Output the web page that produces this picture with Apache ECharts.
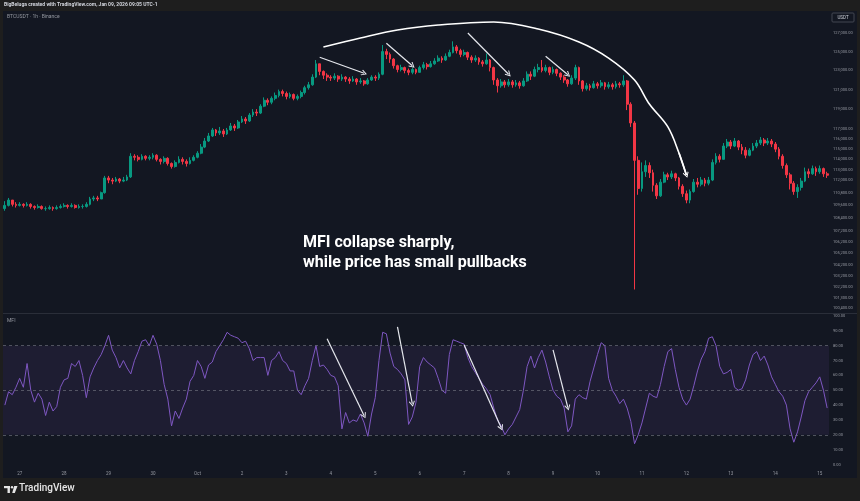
<!DOCTYPE html>
<html>
<head>
<meta charset="utf-8">
<script src="https://cdn.jsdelivr.net/npm/echarts@6/dist/echarts.min.js"></script>
<style>
  html, body { margin: 0; padding: 0; background: #1e1e1e; }
  #main { width: 860px; height: 501px; }
</style>
</head>
<body>
<div id="main"></div>
<script>
// BTCUSDT, 2h bars from Sep 26 16:00
const firstOpen = 109300;
const closes = [
  109600,110100,109700,109600,109700,109600,109700,109500,109400,109500,
  109300,109300,109400,109300,109400,109500,109600,109500,109600,109400,
  109500,109500,109700,110200,110300,110200,110800,112200,112000,111900,
  112100,111900,112000,112300,114300,114200,114000,114300,114100,114200,
  114400,114000,113800,114100,113600,113300,113700,114000,113800,113600,
  113900,114200,114600,115200,115800,116300,116900,116600,116800,116500,
  116900,117300,117100,117700,118000,117800,118400,118700,118600,119300,
  119900,119700,120100,120400,120800,120600,120300,120500,120100,120300,
  120700,121200,121500,122300,123700,122900,122500,122300,122200,122400,
  122100,122300,122100,121900,122100,121800,121900,121600,122000,122300,
  122200,122600,125000,124700,124200,123500,123100,123300,123000,122800,
  123100,122800,123300,123600,123400,123700,124000,124300,124100,124500,
  124900,125500,125100,124700,124900,124400,124100,124300,123900,123700,
  124100,123300,122000,121400,121800,121500,121800,121500,121700,121400,
  121900,122600,122400,123100,123300,123000,123300,122800,123100,122700,
  122300,122000,121600,122200,123300,121900,121100,121400,121200,121600,
  121400,121700,121300,121500,121300,121600,121500,121900,119500,117600,
  113900,111200,112800,113400,112700,111500,110500,111800,112500,112300,
  112600,112200,111400,110700,110100,110900,111800,111600,112000,111700,
  112000,113700,114300,114000,115300,115700,115300,115800,115200,114900,
  114400,114900,115300,115600,115900,115600,115800,115500,115000,114300,
  113400,112500,111700,110900,111300,111900,112800,112600,113100,112800,
  113100,112600,112462.47
];
const highs = [
  110000,110300,110100,109900,109900,109800,109900,109800,109600,109700,
  109600,109500,109600,109500,109600,109700,109800,109700,109800,109700,
  109700,109700,109900,110400,110500,110500,110900,112400,112400,112200,
  112300,112200,112300,112500,114600,114500,114400,114500,114400,114400,
  114600,114500,114100,114300,114200,113700,113900,114300,114200,114000,
  114200,114400,114800,115500,116100,116600,117100,117000,117200,117000,
  117100,117600,117500,117900,118300,118200,118600,119000,119000,119500,
  120200,120100,120300,120700,121000,121000,120800,120700,120600,120500,
  120900,121400,121800,122600,124100,123700,123000,122700,122500,122700,
  122500,122600,122400,122300,122400,122200,122200,122000,122200,122500,
  122500,122800,125700,125300,124900,124300,123600,123600,123400,123200,
  123300,123200,123500,123900,123800,124000,124300,124600,124500,124800,
  125200,126100,125700,125300,125200,125000,124600,124600,124400,124100,
  124800,124200,123400,122200,122100,122000,122100,122000,122000,121900,
  122200,122900,122900,123400,123700,124100,123600,123400,123400,123200,
  122800,122500,122100,122500,123600,123400,122000,121700,121600,121900,
  121800,122000,121800,121800,121700,121900,121800,122500,122000,119700,
  117800,114300,113700,113900,113700,113000,111700,112100,112800,112700,
  112900,112700,112300,111600,111000,111100,112100,112200,112300,112200,
  112300,114000,114600,114500,115600,116000,115900,116100,115900,115500,
  115200,115100,115600,115900,116200,116100,116100,116000,115700,115200,
  114500,113600,112700,111900,111600,112200,113200,113100,113400,113300,
  113400,113200,112800
];
const lows = [
  109100,109500,109500,109400,109500,109400,109500,109300,109200,109300,
  109200,109100,109200,109100,109200,109300,109400,109300,109400,109300,
  109300,109300,109400,109600,110000,110000,110200,110700,111700,111600,
  111800,111700,111800,111900,112200,113900,113800,113900,113900,113900,
  114000,113800,113500,113600,113400,113100,113200,113600,113500,113300,
  113500,113800,114100,114500,115100,115700,116200,116300,116400,116200,
  116400,116800,116800,117000,117600,117500,117700,118200,118300,118500,
  119200,119400,119500,119900,120200,120300,120000,120100,119900,119900,
  120100,120500,121000,121400,122200,122500,122100,121900,121900,122000,
  121800,121900,121800,121600,121800,121500,121600,121400,121500,121900,
  121900,122000,122500,124200,123800,123200,122800,122900,122700,122500,
  122600,122600,122800,123100,123100,123300,123600,123900,123800,124000,
  124400,124800,124800,124400,124500,124100,123800,123900,123600,123400,
  123600,122900,121500,120700,121200,121200,121300,121200,121300,121100,
  121300,121800,122000,122300,122800,122800,122800,122500,122600,122400,
  122000,121700,121300,121500,122000,121500,120800,120900,120900,121100,
  121100,121200,121000,121100,121000,121100,121200,121300,118900,117200,
  102000,110600,110900,112300,112200,110900,110200,110400,111700,112000,
  112100,111900,111100,110400,109800,109800,110800,111300,111400,111400,
  111500,111900,113500,113700,114000,115100,115000,115200,114900,114500,
  114100,114300,114800,115100,115400,115300,115400,115200,114700,114000,
  113100,112200,111100,110600,110300,111000,111800,112200,112500,112400,
  112600,112300,112200
];
const mfi = [
  40,49,47,52,58,52,68,50,42,48, 44,33,42,36,39,52,57,58,68,66,
  70,60,45,59,65,70,74,80,87,77, 72,65,70,65,61,70,76,83,84,80,
  87,81,70,54,44,26,36,31,38,44, 56,60,70,66,58,67,69,76,80,84,
  89,87,86,85,82,83,78,70,72,72, 72,60,70,72,76,70,68,63,63,50,
  47,53,58,70,80,66,67,64,60,59, 53,24,35,28,30,29,34,28,19,34,
  45,70,89,88,75,66,64,61,57,27, 32,42,66,72,69,67,65,58,50,48,
  74,84,83,82,81,72,66,62,58,54, 51,47,38,30,26,20,24,27,32,37,
  50,66,73,65,72,77,69,59,50,46, 44,38,22,26,44,47,45,44,56,65,
  74,82,80,58,50,46,41,44,38,29, 14,20,28,38,48,46,45,54,66,76,
  78,64,52,44,40,44,53,63,71,76, 85,86,80,66,61,62,64,52,50,51,
  57,67,74,76,70,73,67,59,54,49, 46,40,24,15,22,32,43,49,52,55,
  59,50,38
];
const priceTicks = [127000,125000,123000,121000,119000,117000,116000,115000,114000,113000,
  112000,110800,109600,108400,107200,106200,105200,104200,103200,102200,101300,100400];
const mfiTicks = [0,10,20,30,40,50,60,70,80,90,100];
const monthNames = ['Jan','Feb','Mar','Apr','May','Jun','Jul','Aug','Sep','Oct','Nov','Dec'];

// hand-drawn notes, [barIndex, price]
const arcPath = [[86,125490],[96,126460],[106,127330],[117,127870],[132,128200],[144,127430],
  [155,126030],[163,124310],[170,122000],[174,119520],[179,117200],[182,114620],[184,112490]];
const priceArrows = [[85,124400,97,122700],[103,125900,110,123500],[125,127000,136,122600],[146,124500,152,122550]];
const mfiArrows = [[87,84.6,97,32.9],[106,92.6,110,40.9],[124,80.5,134,24.8],[148,77.2,152,38.3]];

const lg = Math.log;
const times = [];
for (let i = 0; i < closes.length; i++) {
  const d = new Date(Date.UTC(2025, 8, 26, 16) + i * 7200000);
  times.push((d.getUTCMonth() + 1) + '/' + d.getUTCDate() + ' ' + d.getUTCHours());
}
const candles = closes.map((c, i) => [lg(i ? closes[i - 1] : firstOpen), lg(c), lg(lows[i]), lg(highs[i])]);

function fmt(n) {
  return n.toFixed(2).replace(/\B(?=(\d{3})+(?!\d))/g, ',');
}

const UP = '#089981', DOWN = '#f23645';
const TXT = '#9598a1';
const chevron = 'path://M5,0 L10,8 L8.8,9.2 L5,2.8 L1.2,9.2 L0,8 Z';

const chart = echarts.init(document.getElementById('main'));
const option = {
  animation: false,
  backgroundColor: '#131722',
  grid: [
    { left: 3, right: 31, top: 12, height: 301 },
    { left: 3, right: 31, top: 313, height: 153 }
  ],
  xAxis: [
    {
      type: 'category', gridIndex: 0, data: times,
      axisLine: { show: false }, axisTick: { show: false }, axisLabel: { show: false }, splitLine: { show: false }
    },
    {
      type: 'category', gridIndex: 1, data: times,
      axisLine: { show: false }, axisTick: { show: false }, splitLine: { show: false },
      axisLabel: {
        color: TXT, fontSize: 4.5, margin: 5, fontFamily: 'Roboto',
        interval: (i, v) => v.endsWith(' 0'),
        formatter: v => {
          const md = v.split(' ')[0].split('/');
          return md[1] === '1' ? monthNames[+md[0] - 1] : md[1];
        }
      }
    }
  ],
  yAxis: [
    {
      type: 'value', gridIndex: 0, position: 'right',
      min: lg(99970), max: lg(129300),
      axisLine: { show: false }, axisTick: { show: false }, splitLine: { show: false },
      axisLabel: {
        customValues: priceTicks.map(lg), color: TXT, fontSize: 4, margin: 4, fontFamily: 'Roboto',
        formatter: v => fmt(Math.round(Math.exp(v) / 100) * 100)
      }
    },
    {
      type: 'value', gridIndex: 1, position: 'right', min: -1, max: 102,
      axisLine: { show: false }, axisTick: { show: false }, splitLine: { show: false },
      axisLabel: {
        customValues: mfiTicks, color: TXT, fontSize: 4, margin: 4, fontFamily: 'Roboto',
        formatter: v => v.toFixed(2)
      }
    }
  ],
  series: [
    {
      type: 'candlestick', xAxisIndex: 0, yAxisIndex: 0, data: candles, barWidth: '62%',
      itemStyle: { color: UP, color0: DOWN, borderColor: UP, borderColor0: DOWN, borderWidth: 1 },
      markLine: {
        silent: true, symbol: ['none', 'none'],
        lineStyle: { opacity: 0 },
        label: {
          show: true, position: 'end', distance: 1, formatter: fmt(closes[closes.length - 1]),
          fontSize: 4, color: '#ffffff', backgroundColor: UP, padding: [1, 2], fontFamily: 'Roboto'
        },
        data: [{ yAxis: lg(closes[closes.length - 1]) }]
      }
    },
    {
      type: 'line', xAxisIndex: 0, yAxisIndex: 0, smooth: 0.35, symbol: 'none', silent: true, z: 5,
      data: arcPath.map(p => [p[0], lg(p[1])]),
      lineStyle: { color: '#ffffff', width: 1.6 }
    },
    {
      type: 'lines', coordinateSystem: 'cartesian2d', xAxisIndex: 0, yAxisIndex: 0, z: 6, silent: true,
      symbol: ['none', chevron], symbolSize: [7, 6],
      lineStyle: { color: '#e6e8ee', width: 1.2, opacity: 1 },
      data: priceArrows.map(a => ({ coords: [[a[0], lg(a[1])], [a[2], lg(a[3])]] }))
        .concat([{ coords: [[arcPath[11][0], lg(arcPath[11][1])], [arcPath[12][0], lg(arcPath[12][1])]], lineStyle: { width: 1.6, color: '#ffffff' } }])
    },
    {
      type: 'line', xAxisIndex: 1, yAxisIndex: 1, data: mfi, showSymbol: false, silent: true,
      lineStyle: { color: '#7e57c2', width: 1 },
      markArea: {
        silent: true,
        itemStyle: { color: 'rgba(126,87,194,0.1)' },
        data: [[{ yAxis: 20 }, { yAxis: 80 }]]
      },
      markLine: {
        silent: true, symbol: ['none', 'none'], label: { show: false },
        lineStyle: { type: [3, 3], color: 'rgba(120,123,134,0.6)', width: 1 },
        data: [{ yAxis: 80 }, { yAxis: 50 }, { yAxis: 20 }]
      }
    },
    {
      type: 'lines', coordinateSystem: 'cartesian2d', xAxisIndex: 1, yAxisIndex: 1, z: 6, silent: true,
      symbol: ['none', chevron], symbolSize: [7, 6],
      lineStyle: { color: '#e6e8ee', width: 1.2, opacity: 1 },
      data: mfiArrows.map(a => ({ coords: [[a[0], a[1]], [a[2], a[3]]] }))
    }
  ],
  graphic: [
    // snapshot frame
    { type: 'rect', shape: { x: 0, y: 0, width: 860, height: 11 }, style: { fill: '#1e1e1e' } },
    { type: 'rect', shape: { x: 0, y: 478, width: 860, height: 23 }, style: { fill: '#1e1e1e' } },
    { type: 'rect', shape: { x: 0, y: 0, width: 3, height: 501 }, style: { fill: '#1e1e1e' } },
    { type: 'rect', shape: { x: 857, y: 0, width: 3, height: 501 }, style: { fill: '#1e1e1e' } },
    { type: 'rect', shape: { x: 3, y: 313, width: 854, height: 1 }, style: { fill: '#2a2e39' } },
    {
      type: 'text', x: 4, y: 2,
      style: { text: 'BigBeluga created with TradingView.com, Jan 09, 2026 09:05 UTC-1', fill: '#d1d4dc', font: 'bold 5px Roboto' }
    },
    { type: 'text', x: 7, y: 14, style: { text: 'BTCUSDT · 1h · Binance', fill: TXT, font: '5px Roboto' } },
    { type: 'text', x: 7, y: 318, style: { text: 'MFI', fill: TXT, font: '5px Roboto' } },
    { type: 'rect', shape: { x: 832, y: 13, width: 22, height: 9, r: 1 }, style: { fill: 'none', stroke: '#434651', lineWidth: 1 } },
    { type: 'text', x: 843, y: 17.5, style: { text: 'USDT', fill: '#d1d4dc', font: '4.5px Roboto', align: 'center', verticalAlign: 'middle' } },
    {
      type: 'text', x: 303, y: 233, z: 10,
      style: {
        text: 'MFI collapse sharply,\nwhile price has small pullbacks',
        fill: '#ffffff', font: 'bold 16px Roboto', lineHeight: 20
      }
    },
    // TradingView footer logo
    { type: 'rect', shape: { x: 4, y: 486, width: 6, height: 2.2 }, style: { fill: '#e6e6e6' } },
    { type: 'rect', shape: { x: 7.5, y: 486, width: 2.4, height: 7 }, style: { fill: '#e6e6e6' } },
    { type: 'circle', shape: { cx: 12, cy: 487.2, r: 1.2 }, style: { fill: '#e6e6e6' } },
    { type: 'polygon', shape: { points: [[14.2, 486], [17.5, 486], [14.8, 493], [12.2, 493]] }, style: { fill: '#e6e6e6' } },
    { type: 'text', x: 19, y: 483.5, style: { text: 'TradingView', fill: '#e6e6e6', font: '500 10px Roboto' } }
  ]
};
chart.setOption(option);
</script>
</body>
</html>
